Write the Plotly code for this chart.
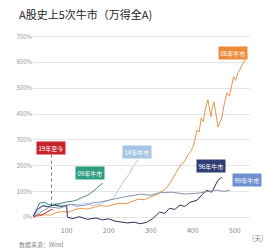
import plotly.graph_objects as go

# ---- data (trading days since start, cumulative return %) ----
days_06 = [19, 30, 45, 60, 75, 90, 105, 120, 135, 150, 165, 180, 195, 210, 225, 240, 255, 270, 285, 300,
           315, 325, 335, 345, 355, 365, 372, 380, 388, 395, 400, 405, 410, 415, 420, 425, 430, 436, 440,
           443, 447, 450, 455, 460, 465, 469, 475, 481, 487, 492, 497, 502, 507, 512, 518, 524]
ret_06 = [0, 5, 10, 8, 18, 22, 20, 30, 35, 32, 40, 45, 42, 50, 55, 52, 60, 70, 68, 80,
          88, 100, 110, 130, 160, 185, 205, 215, 240, 255, 270, 300, 338, 330, 385, 370, 420, 455, 420,
          390, 430, 447, 400, 350, 370, 385, 440, 482, 470, 510, 545, 530, 560, 572, 590, 610]

days_14 = [19, 36, 48, 60, 71, 88, 107, 126, 143, 160, 171, 183, 190, 200, 211, 219, 226, 236, 243, 250, 257, 262, 269]
ret_14 = [0, 30, 50, 40, 55, 45, 50, 40, 55, 45, 47, 52, 60, 65, 74, 95, 117, 140, 156, 170, 195, 205, 222]

days_09 = [19, 29, 36, 48, 57, 67, 79, 90, 102, 114, 126, 138, 150, 160, 167, 174, 181, 186]
ret_09 = [0, 30, 55, 58, 50, 47, 52, 55, 60, 62, 68, 78, 85, 97, 105, 117, 125, 132]

days_19 = [19, 26, 33, 40, 48, 55, 60, 64, 67]
ret_19 = [0, 5, 10, 8, 15, 20, 25, 30, 28]

days_96 = [19, 30, 43, 55, 70, 85, 100, 102, 115, 130, 150, 170, 185, 200, 215, 230, 245, 260, 275, 290,
           305, 321, 333, 345, 357, 369, 381, 393, 410, 421, 433, 445, 452, 460, 469]
ret_96 = [0, 30, 45, 40, 48, 42, 45, 0, -5, 2, -8, -3, -10, -6, -15, -18, -22, -19, -25, -20,
          -5, 20, 15, 35, 30, 47, 42, 58, 66, 86, 105, 97, 117, 144, 155]

days_99 = [19, 40, 60, 83, 110, 140, 160, 183, 210, 240, 262, 274, 298, 321, 350, 381, 410, 440, 457, 474, 488]
ret_99 = [0, 20, 40, 35, 50, 45, 55, 60, 70, 80, 85, 90, 85, 95, 97, 90, 93, 100, 105, 100, 105]

series = [
    ("06年牛市", days_06, ret_06, "#E9944A", "#EE8A3A", 495, 638),
    ("14年牛市", days_14, ret_14, "#A9CBEA", "#A6C4E6", 267, 253),
    ("09年牛市", days_09, ret_09, "#3E8F86", "#2E9E80", 155, 171),
    ("19年至今", days_19, ret_19, "#B8272C", "#C8232B", 62, 268),
    ("96年牛市", days_96, ret_96, "#2A3050", "#2F3D73", 443, 198),
    ("99年牛市", days_99, ret_99, "#8A93A6", "#6F8FD2", 529, 144),
]

y_ticks = [0, 100, 200, 300, 400, 500, 600, 700]
y_labels = ["0%", "100%", "200%", "300%", "400%", "500%", "600%", "700%"]
x_ticks = [100, 200, 300, 400, 500]

fig = go.Figure()
for name, d, r, lc, bc, lx, ly in series:
    fig.add_trace(go.Scatter(x=d, y=r, mode="lines", name=name,
                             line=dict(color=lc, width=1), showlegend=False))
    fig.add_annotation(x=lx, y=ly, text=name, showarrow=False,
                       font=dict(size=6, color="white", family="Noto Sans CJK SC"),
                       bgcolor=bc, borderpad=1.5)

# dashed pointer from the 19年至今 label down to its line
fig.add_shape(type="line", x0=days_19[-2], x1=days_19[-2], y0=ret_19[-2] + 15, y1=250,
              line=dict(color="#555555", width=0.8, dash="dot"))

fig.add_annotation(x=1, xref="paper", y=-0.03, yref="paper", yanchor="top", xanchor="left",
                   text="(天)", showarrow=False,
                   font=dict(size=7, color="#888888", family="Noto Sans CJK SC"))

fig.add_annotation(x=-0.074, xref="paper", xanchor="left", y=1.107, yref="paper", yanchor="middle",
                   text="A股史上5次牛市（万得全A)", showarrow=False,
                   font=dict(size=11, color="#222222", family="Noto Sans CJK SC"))

fig.add_annotation(x=-0.074, xref="paper", y=-0.07, yref="paper", xanchor="left", yanchor="top",
                   text="数据来源：Wind", showarrow=False,
                   font=dict(size=6, color="#888888", family="Noto Sans CJK SC"))

fig.update_layout(
    width=264, height=248,
    margin=dict(l=33, r=14, t=34, b=23),
    paper_bgcolor="white", plot_bgcolor="white",
    font=dict(family="Noto Sans CJK SC", size=6, color="#999999"),
    xaxis=dict(range=[20, 536], tickvals=x_ticks, showgrid=False, zeroline=False,
               showline=False, ticks="", tickfont=dict(size=7, color="#888888")),
    yaxis=dict(range=[-30, 710], tickvals=y_ticks, ticktext=y_labels, showgrid=True,
               gridcolor="#E6E6E6", gridwidth=1, zeroline=False, ticks="",
               tickfont=dict(size=6, color="#999999")),
)

fig.write_html("out.html")
